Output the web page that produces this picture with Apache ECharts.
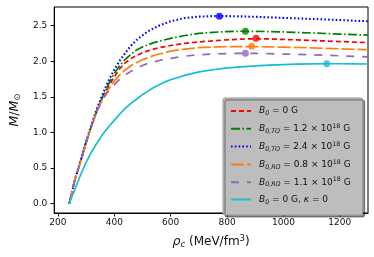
<!DOCTYPE html>
<html><head><meta charset="utf-8">
<script src="https://cdn.jsdelivr.net/npm/echarts@6/dist/echarts.min.js"></script>
<style>html,body{margin:0;padding:0;background:#fff}#c{width:374px;height:257px}</style>
</head><body><div id="c"></div>
<script>
const rho = [240,260,280,300,320,340,360,380,400,420,440,460,480,500,520,540,560,580,600,650,700,750,800,850,900,950,1000,1050,1100,1150,1200,1250,1300];
const massB0 = [0,0.33,0.59,0.86,1.10,1.32,1.50,1.65,1.78,1.90,1.98,2.04,2.08,2.12,2.145,2.17,2.19,2.205,2.22,2.25,2.27,2.285,2.30,2.31,2.315,2.312,2.305,2.298,2.29,2.283,2.275,2.268,2.26];
const massTO12 = [0,0.33,0.59,0.86,1.10,1.32,1.51,1.68,1.83,1.94,2.03,2.10,2.16,2.20,2.23,2.26,2.28,2.30,2.32,2.36,2.39,2.405,2.415,2.42,2.418,2.415,2.41,2.403,2.395,2.388,2.38,2.373,2.365];
const massTO24 = [0,0.33,0.60,0.87,1.12,1.35,1.55,1.73,1.88,2.01,2.12,2.22,2.30,2.36,2.42,2.46,2.50,2.53,2.56,2.605,2.625,2.632,2.632,2.628,2.622,2.615,2.607,2.60,2.592,2.585,2.577,2.568,2.56];
const massRO08 = [0,0.33,0.58,0.85,1.10,1.31,1.48,1.61,1.72,1.81,1.88,1.94,1.98,2.02,2.05,2.08,2.10,2.12,2.14,2.17,2.19,2.20,2.203,2.205,2.204,2.20,2.197,2.192,2.187,2.18,2.174,2.167,2.16];
const massRO11 = [0,0.33,0.58,0.85,1.10,1.31,1.47,1.58,1.67,1.75,1.81,1.86,1.90,1.94,1.97,1.99,2.01,2.03,2.04,2.07,2.09,2.10,2.107,2.11,2.108,2.105,2.10,2.095,2.09,2.083,2.075,2.068,2.06];
const massK0 = [0,0.20,0.40,0.58,0.73,0.86,0.98,1.08,1.17,1.26,1.34,1.41,1.47,1.53,1.58,1.63,1.67,1.71,1.74,1.80,1.85,1.88,1.905,1.92,1.935,1.945,1.952,1.958,1.962,1.964,1.964,1.962,1.96];
const peakRho = [903, 865, 773, 887, 865, 1154];
const peakMass = [2.32, 2.42, 2.63, 2.21, 2.11, 1.965];
const xTicks = [200,400,600,800,1000,1200];
const yTicks = [0,0.5,1.0,1.5,2.0,2.5];
const seriesNames = ['b0','to12','to24','ro08','ro11','k0'];
const legendLabels = [
  '{it|B}{sub|0}{t| = 0 G}',
  '{it|B}{sub|0,TO}{t| = 1.2 × 10}{sup|18}{t| G}',
  '{it|B}{sub|0,TO}{t| = 2.4 × 10}{sup|18}{t| G}',
  '{it|B}{sub|0,RO}{t| = 0.8 × 10}{sup|18}{t| G}',
  '{it|B}{sub|0,RO}{t| = 1.1 × 10}{sup|18}{t| G}',
  '{it|B}{sub|0}{t| = 0 G, }{it|κ}{t| = 0}'
];
const allMass = [massB0, massTO12, massTO24, massRO08, massRO11, massK0];
const colors = ['#ff0000','#008000','#0000ff','#ff7f0e','#9467bd','#17becf'];
const dashes = [[5,3],[9,2.4,1.6,2.4],[1.6,2.2],[13,3],[8,8],'solid'];
const widths = [1.7,1.7,2.1,1.7,1.7,1.7];

const series = [];
allMass.forEach((m, i) => {
  series.push({
    name: seriesNames[i], type: 'line', smooth: false,
    showSymbol: false,
    data: rho.map((r, k) => [r, m[k]]),
    lineStyle: {color: colors[i], width: widths[i], type: dashes[i], cap: 'butt', join: 'round'},
    itemStyle: {color: colors[i]}, z: 2
  });
});
series.push({
  type: 'scatter', symbolSize: 7, z: 5,
  data: peakRho.map((r, i) => ({value: [r, peakMass[i]], itemStyle: {color: colors[i]}}))
});

const rich = {
  it: {fontStyle: 'italic', fontSize: 9, fontFamily: 'DejaVu Sans', color: '#111'},
  t: {fontSize: 9, fontFamily: 'DejaVu Sans', color: '#111'},
  sub: {fontStyle: 'italic', fontSize: 6.3, fontFamily: 'DejaVu Sans', color: '#111', padding: [5, 0, 0, 0]},
  sup: {fontSize: 6.3, fontFamily: 'DejaVu Sans', color: '#111', padding: [0, 0, 5, 0]}
};

const chart = echarts.init(document.getElementById('c'), null, {renderer: 'canvas'});
chart.setOption({
  animation: false,
  backgroundColor: '#ffffff',
  grid: {left: 46, right: 6, top: 7, bottom: 44, show: true, borderColor: '#000', borderWidth: 1, backgroundColor: 'transparent'},
  xAxis: {
    type: 'value', min: 187, max: 1300,
    name: '{it|ρ}{sub|c}{t| (MeV/fm}{sup|3}{t|)}', nameLocation: 'middle', nameGap: 21,
    nameTextStyle: {rich: {
      it: {fontStyle: 'italic', fontSize: 12.5, fontFamily: 'DejaVu Sans', color: '#111'},
      t: {fontSize: 12, fontFamily: 'DejaVu Sans', color: '#111'},
      sub: {fontStyle: 'italic', fontSize: 8.5, fontFamily: 'DejaVu Sans', color: '#111', padding: [6, 0, 0, 0]},
      sup: {fontSize: 8.5, fontFamily: 'DejaVu Sans', color: '#111', padding: [0, 0, 6, 0]}
    }},
    splitLine: {show: false},
    axisLine: {show: true, onZero: false, lineStyle: {color: '#000', width: 1}},
    axisTick: {show: true, length: 3.5, lineStyle: {color: '#000'}, customValues: xTicks},
    axisLabel: {fontSize: 9, fontFamily: 'DejaVu Sans', color: '#111', margin: 5, customValues: xTicks,
      formatter: v => String(v)}
  },
  yAxis: {
    type: 'value', min: -0.13, max: 2.76,
    name: '{it|M}{t|/}{it|M}{sub|⊙}', nameLocation: 'middle', nameGap: 30, nameRotate: 90,
    nameTextStyle: {rich: {
      it: {fontStyle: 'italic', fontSize: 12.5, fontFamily: 'DejaVu Sans', color: '#111'},
      t: {fontSize: 12.5, fontFamily: 'DejaVu Sans', color: '#111'},
      sub: {fontSize: 8.5, fontFamily: 'DejaVu Sans', color: '#111', padding: [6, 0, 0, 0]}
    }},
    splitLine: {show: false},
    axisLine: {show: true, onZero: false, lineStyle: {color: '#000', width: 1}},
    axisTick: {show: true, length: 3.5, lineStyle: {color: '#000'}, customValues: yTicks},
    axisLabel: {fontSize: 9, fontFamily: 'DejaVu Sans', color: '#111', margin: 7, customValues: yTicks,
      formatter: v => v.toFixed(1)}
  },
  legend: {
    orient: 'vertical', left: 223, top: 98,
    data: seriesNames,
    itemWidth: 20, itemHeight: 10, itemGap: 6.8,
    padding: [8, 12, 10, 7],
    backgroundColor: '#bdbdbd', borderColor: '#9a9a9a', borderWidth: 1, borderRadius: 2,
    shadowColor: 'rgba(0,0,0,0.45)', shadowOffsetX: 2, shadowOffsetY: 2, shadowBlur: 0,
    itemStyle: {opacity: 0},
    formatter: name => legendLabels[seriesNames.indexOf(name)],
    textStyle: {rich: rich, padding: [0, 0, 0, 3]},
    selectedMode: false
  },
  series: series
});
</script></body></html>
